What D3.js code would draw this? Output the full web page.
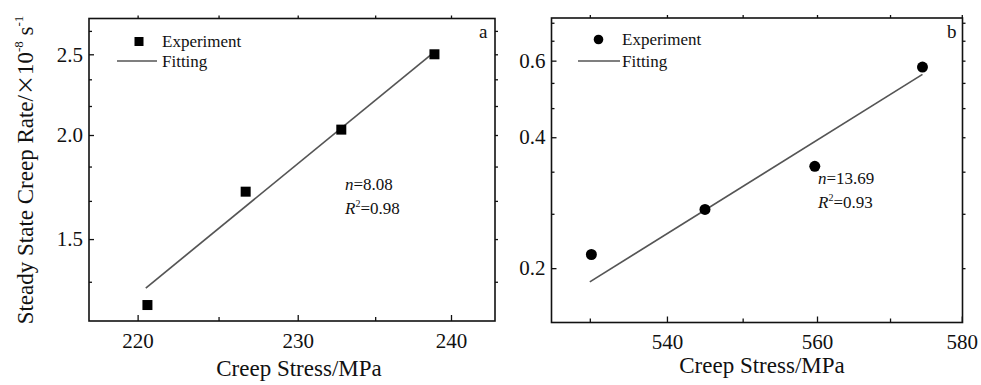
<!DOCTYPE html>
<html><head><meta charset="utf-8">
<script src="https://cdn.jsdelivr.net/npm/d3@7"></script>
<style>
html,body{margin:0;padding:0;background:#fff;}
svg text{font-family:"Liberation Serif","Times New Roman",serif;fill:#111;}
</style></head>
<body><svg id="chart" width="981" height="385"></svg>
<script>
// ---- data ----
const stressA = [220.6, 226.7, 232.8, 238.9];
const rateA = [1.25, 1.71, 2.03, 2.50];
const fitStressA = [220.5, 238.7];
const fitRateA = [1.31, 2.50];
const stressB = [530.2, 545.0, 559.7, 574.5];
const rateB = [0.215, 0.273, 0.343, 0.58];
const fitStressB = [530, 574.5];
const fitRateB = [0.186, 0.558];
const xTicksA = [220, 230, 240];
const xMinorA = [225, 235];
const yTicksA = [1.5, 2.0, 2.5];
const yMinorA = [1.333, 1.667, 1.833, 2.167, 2.333, 2.667];
const xTicksB = [540, 560, 580];
const xMinorB = [530, 550, 570];
const yTicksB = [0.2, 0.4, 0.6];
const yMinorB = [0.2667, 0.3333, 0.4667, 0.5333, 0.6667, 0.7333];
const fitTextA = ["8.08", "0.98"];
const fitTextB = ["13.69", "0.93"];

const svg = d3.select("#chart");

function panel(cfg){
  const g = svg.append("g");
  const x = d3.scaleLog().domain(cfg.xDomain).range([cfg.left, cfg.right]);
  const y = d3.scaleLog().domain(cfg.yDomain).range([cfg.bottom, cfg.top]);

  const styleAxis = sel => {
    sel.select(".domain").remove();
    sel.selectAll("line").attr("stroke", "#111").attr("stroke-width", 1.3);
    sel.selectAll("text").attr("font-family", "Liberation Serif").attr("font-size", 21).attr("fill", "#111");
  };
  // bottom
  g.append("g").attr("transform", `translate(0,${cfg.bottom})`)
    .call(d3.axisBottom(x).tickValues(cfg.xTicks).tickFormat(d3.format("d")).tickSize(-6).tickPadding(12))
    .call(styleAxis);
  g.append("g").attr("transform", `translate(0,${cfg.bottom})`)
    .call(d3.axisBottom(x).tickValues(cfg.xMinor).tickFormat("").tickSize(-4))
    .call(styleAxis);
  // left
  g.append("g").attr("transform", `translate(${cfg.left},0)`)
    .call(d3.axisLeft(y).tickValues(cfg.yTicks).tickFormat(d3.format(".1f")).tickSize(-5).tickPadding(6))
    .call(styleAxis);
  g.append("g").attr("transform", `translate(${cfg.left},0)`)
    .call(d3.axisLeft(y).tickValues(cfg.yMinor).tickFormat("").tickSize(-3))
    .call(styleAxis);
  // top (outward)
  g.append("g").attr("transform", `translate(0,${cfg.top})`)
    .call(d3.axisTop(x).tickValues(cfg.xTicks.concat(cfg.xMinor)).tickFormat("").tickSize(3))
    .call(styleAxis);
  // right (outward)
  g.append("g").attr("transform", `translate(${cfg.right},0)`)
    .call(d3.axisRight(y).tickValues(cfg.yTicks.concat(cfg.yMinor)).tickFormat("").tickSize(3))
    .call(styleAxis);

  // frame
  g.append("rect").attr("x", cfg.left).attr("y", cfg.top)
    .attr("width", cfg.right - cfg.left).attr("height", cfg.bottom - cfg.top)
    .attr("fill", "none").attr("stroke", "#111").attr("stroke-width", 1.6);

  // fit line
  const fitData = cfg.fitX.map((v, i) => [v, cfg.fitY[i]]);
  g.append("path").datum(fitData)
    .attr("d", d3.line().x(d => x(d[0])).y(d => y(d[1])))
    .attr("stroke", "#555").attr("stroke-width", 1.7).attr("fill", "none");

  // points
  const pts = cfg.xs.map((v, i) => [v, cfg.ys[i]]);
  if (cfg.marker === "square") {
    g.selectAll(".pt").data(pts).enter().append("rect")
      .attr("x", d => x(d[0]) - 5).attr("y", d => y(d[1]) - 5)
      .attr("width", 10).attr("height", 10).attr("fill", "#000");
  } else {
    g.selectAll(".pt").data(pts).enter().append("circle")
      .attr("cx", d => x(d[0])).attr("cy", d => y(d[1])).attr("r", 5.5).attr("fill", "#000");
  }

  // legend
  const L = cfg.legend;
  if (cfg.marker === "square") {
    g.append("rect").attr("x", L.mx - 4.5).attr("y", L.my - 4.5).attr("width", 9).attr("height", 9).attr("fill", "#000");
  } else {
    g.append("circle").attr("cx", L.mx).attr("cy", L.my).attr("r", 4.8).attr("fill", "#000");
  }
  g.append("text").attr("x", L.tx).attr("y", L.my + 5.5).attr("font-size", 17).text("Experiment");
  g.append("line").attr("x1", L.lx1).attr("x2", L.lx2).attr("y1", L.ly).attr("y2", L.ly)
    .attr("stroke", "#555").attr("stroke-width", 1.7);
  g.append("text").attr("x", L.tx).attr("y", L.ly + 5.5).attr("font-size", 17).text("Fitting");

  // panel letter
  g.append("text").attr("x", cfg.letterX).attr("y", 38).attr("font-size", 19).text(cfg.letter);

  // annotations
  const t1 = g.append("text").attr("x", cfg.annX).attr("y", cfg.annY).attr("font-size", 17);
  t1.append("tspan").attr("font-style", "italic").text("n");
  t1.append("tspan").text("=" + cfg.fitText[0]);
  const t2 = g.append("text").attr("x", cfg.annX).attr("y", cfg.annY + 24).attr("font-size", 17);
  t2.append("tspan").attr("font-style", "italic").text("R");
  t2.append("tspan").attr("font-size", 10).attr("dy", -7).text("2");
  t2.append("tspan").attr("dy", 7).text("=" + cfg.fitText[1]);

  // x title
  g.append("text").attr("x", cfg.xTitleX).attr("y", cfg.xTitleY).attr("text-anchor", "middle")
    .attr("font-size", 23).text("Creep Stress/MPa");
}

panel({
  xDomain: [217.05, 242.95], yDomain: [1.196, 2.76],
  left: 89, right: 495, top: 18.5, bottom: 321,
  xTicks: xTicksA, xMinor: xMinorA, yTicks: yTicksA, yMinor: yMinorA,
  xs: stressA, ys: rateA, fitX: fitStressA, fitY: fitRateA, marker: "square",
  legend: {mx: 139, my: 41.5, tx: 162, lx1: 117, lx2: 157, ly: 61},
  letter: "a", letterX: 479,
  annX: 345, annY: 190, fitText: fitTextA,
  xTitleX: 299, xTitleY: 376
});
panel({
  xDomain: [525.1, 580.1], yDomain: [0.150, 0.752],
  left: 551.5, right: 962.5, top: 18, bottom: 322.5,
  xTicks: xTicksB, xMinor: xMinorB, yTicks: yTicksB, yMinor: yMinorB,
  xs: stressB, ys: rateB, fitX: fitStressB, fitY: fitRateB, marker: "circle",
  legend: {mx: 598.5, my: 39.5, tx: 622, lx1: 578, lx2: 620, ly: 61},
  letter: "b", letterX: 947,
  annX: 818, annY: 184, fitText: fitTextB,
  xTitleX: 762, xTitleY: 373
});

// y title
const yt = svg.append("text")
  .attr("transform", "translate(33,170) rotate(-90)")
  .attr("text-anchor", "middle").attr("font-size", 23);
yt.append("tspan").text("Steady State Creep Rate/");
yt.append("tspan").attr("font-family", "Noto Sans CJK SC").attr("font-size", 20).text("×");
yt.append("tspan").text("10");
yt.append("tspan").attr("font-size", 13).attr("dy", -10).text("-8");
yt.append("tspan").attr("dy", 10).text(" s");
yt.append("tspan").attr("font-size", 13).attr("dy", -10).text("-1");
</script>
</body></html>
